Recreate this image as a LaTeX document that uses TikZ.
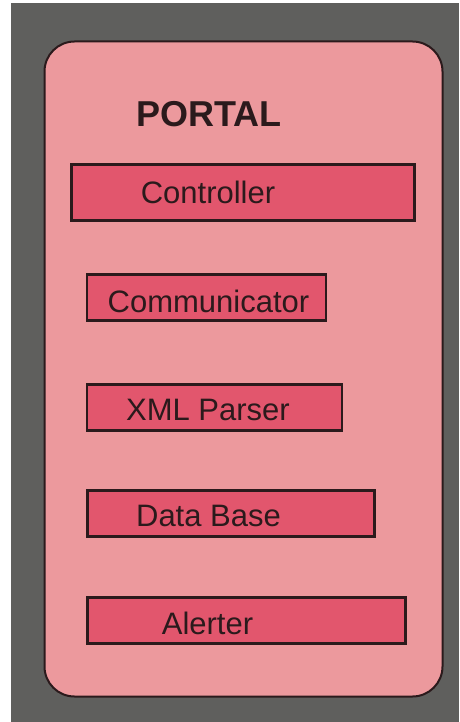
\documentclass[tikz,border=0pt]{standalone}
\usepackage{fontspec}
\setmainfont{Liberation Sans}
\usepackage{xcolor}
\definecolor{backgray}{HTML}{5F5F5D}
\definecolor{portalpink}{HTML}{EC999D}
\definecolor{modred}{HTML}{E2566D}
\definecolor{inkdark}{HTML}{2B1A1C}
\begin{document}
\begin{tikzpicture}[x=1pt,y=-1pt,
module/.style={rectangle,draw=inkdark,line width=2.5pt,fill=modred,inner sep=0pt},
modlabel/.style={anchor=base,font=\fontsize{31}{31}\selectfont,text=inkdark,inner sep=0pt}]
\useasboundingbox (0,0) rectangle (459,722);
\fill[white] (0,0) rectangle (459,722);
\fill[backgray] (11,3) rectangle (459,722);
\node[draw=inkdark,line width=2pt,fill=portalpink,rounded corners=30pt,
  minimum width=398pt,minimum height=655pt,inner sep=0pt] (Portal) at (243.5,369) {};
\node[anchor=base,font=\bfseries\fontsize{36}{36}\selectfont,text=inkdark,inner sep=0pt] (Title) at (209,127) {PORTAL};
% modules
\node[module,minimum width=343pt,minimum height=56pt] (Controller) at (243,192.5) {};
\node[modlabel] at (208,203) {Controller};
\node[module,minimum width=239pt,minimum height=46pt] (Communicator) at (206.5,297.5) {};
\node[modlabel] at (208.5,312) {Communicator};
\node[module,minimum width=255pt,minimum height=46pt] (XMLParser) at (214.5,407.5) {};
\node[modlabel] at (208,420) {XML Parser};
\node[module,minimum width=287pt,minimum height=46pt] (DataBase) at (231,513.5) {};
\node[modlabel] at (208.5,526) {Data Base};
\node[module,minimum width=318pt,minimum height=46pt] (Alerter) at (246.5,620.5) {};
\node[modlabel] at (207.5,634) {Alerter};
\end{tikzpicture}
\end{document}
